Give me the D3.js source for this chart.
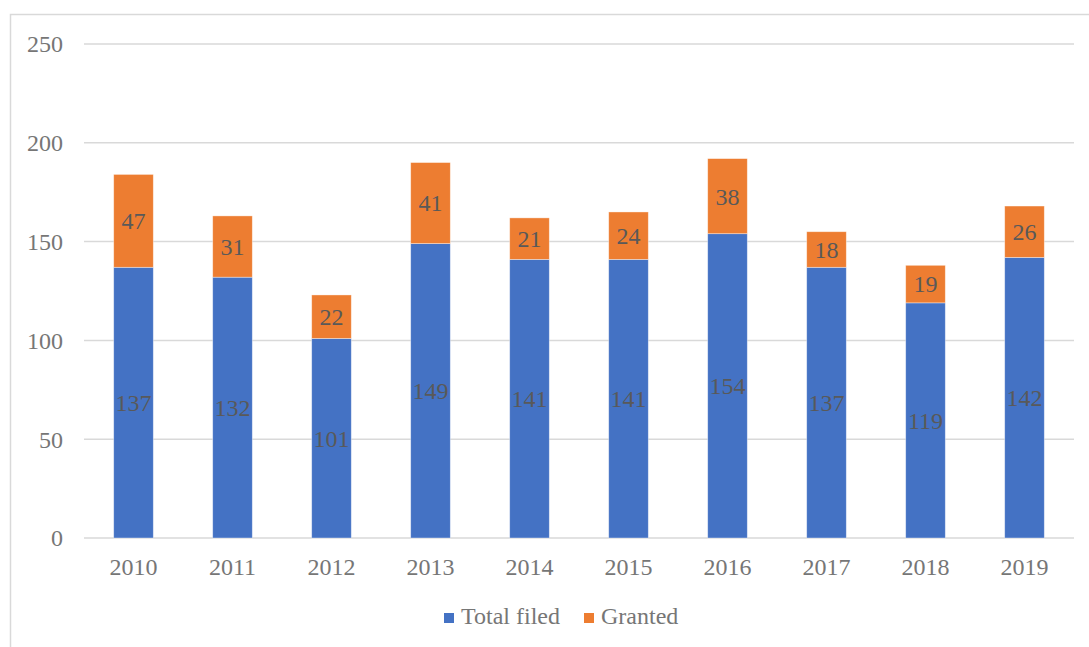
<!DOCTYPE html>
<html lang="en">
<head>
<meta charset="UTF-8">
<title>Total filed vs Granted</title>
<script src="https://d3js.org/d3.v7.min.js"></script>
<style>
  body { margin: 0; background: #fff; }
</style>
</head>
<body>
<div id="chart"></div>
<script>
// chart data
const years = ["2010", "2011", "2012", "2013", "2014", "2015", "2016", "2017", "2018", "2019"];
const totalFiled = [137, 132, 101, 149, 141, 141, 154, 137, 119, 142];
const granted = [47, 31, 22, 41, 21, 24, 38, 18, 19, 26];
const seriesNames = ["Total filed", "Granted"];
const seriesColors = ["#4472C4", "#ED7D31"];
const yTicks = [0, 50, 100, 150, 200, 250];

const FONT = "'Liberation Serif', 'Times New Roman', 'DejaVu Serif', serif";
const W = 1089, H = 647;
const margin = {top: 44, right: 15, bottom: 109, left: 84};
const width = W - margin.left - margin.right;
const height = H - margin.top - margin.bottom;

const svg = d3.select("#chart").append("svg")
    .attr("width", W)
    .attr("height", H)
    .attr("font-family", FONT);

// chart area border
svg.append("rect")
    .attr("x", 10.5).attr("y", 14.5)
    .attr("width", W).attr("height", H)
    .attr("fill", "none")
    .attr("stroke", "#d9d9d9")
    .attr("stroke-width", 1.5);

const g = svg.append("g").attr("transform", `translate(${margin.left},${margin.top})`);

const x = d3.scaleBand().domain(years).range([0, width]).paddingInner(0.6).paddingOuter(0.3);
const y = d3.scaleLinear().domain([0, 250]).range([height, 0]);

// gridlines
g.selectAll(".grid")
  .data(yTicks)
  .enter().append("line")
    .attr("x1", 0).attr("x2", width)
    .attr("y1", d => y(d)).attr("y2", d => y(d))
    .attr("stroke", "#d9d9d9")
    .attr("stroke-width", 1.5);

// y tick labels
g.selectAll(".ytick")
  .data(yTicks)
  .enter().append("text")
    .attr("x", -21)
    .attr("y", d => y(d))
    .attr("dy", "0.35em")
    .attr("text-anchor", "end")
    .attr("font-family", FONT)
    .style("font-size", "24px")
    .style("fill", "#767676")
    .text(d => d);

// stacked data
const rows = years.map((yr, i) => ({year: yr, filed: totalFiled[i], granted: granted[i]}));
const stack = d3.stack().keys(["filed", "granted"])(rows);

const layers = g.selectAll(".layer")
  .data(stack)
  .enter().append("g")
    .attr("fill", (d, i) => seriesColors[i]);

layers.selectAll("rect")
  .data(d => d)
  .enter().append("rect")
    .attr("x", d => x(d.data.year))
    .attr("y", d => y(d[1]))
    .attr("width", x.bandwidth())
    .attr("height", d => y(d[0]) - y(d[1]))
    .attr("stroke", "#ffffff")
    .attr("stroke-opacity", 0.5)
    .attr("stroke-width", 0.75);

// data labels in the middle of each segment
layers.selectAll(".lbl")
  .data(d => d)
  .enter().append("text")
    .attr("x", d => x(d.data.year) + x.bandwidth() / 2)
    .attr("y", d => y((d[0] + d[1]) / 2))
    .attr("dy", "0.35em")
    .attr("text-anchor", "middle")
    .attr("font-family", FONT)
    .style("font-size", "24px")
    .style("fill", "#595959")
    .text(d => d[1] - d[0]);

// x axis labels
g.selectAll(".xtick")
  .data(years)
  .enter().append("text")
    .attr("x", d => x(d) + x.bandwidth() / 2)
    .attr("y", height + 37)
    .attr("text-anchor", "middle")
    .attr("font-family", FONT)
    .style("font-size", "24px")
    .style("fill", "#767676")
    .text(d => d);

// legend
const legend = svg.append("g");
const legendX = [444, 584];
seriesNames.forEach((name, i) => {
  legend.append("rect")
    .attr("x", legendX[i]).attr("y", 613)
    .attr("width", 10).attr("height", 10)
    .attr("fill", seriesColors[i]);
  legend.append("text")
    .attr("x", legendX[i] + 17).attr("y", 624)
    .attr("font-family", FONT)
    .style("font-size", "24px")
    .style("fill", "#767676")
    .text(name);
});
</script>
</body>
</html>
